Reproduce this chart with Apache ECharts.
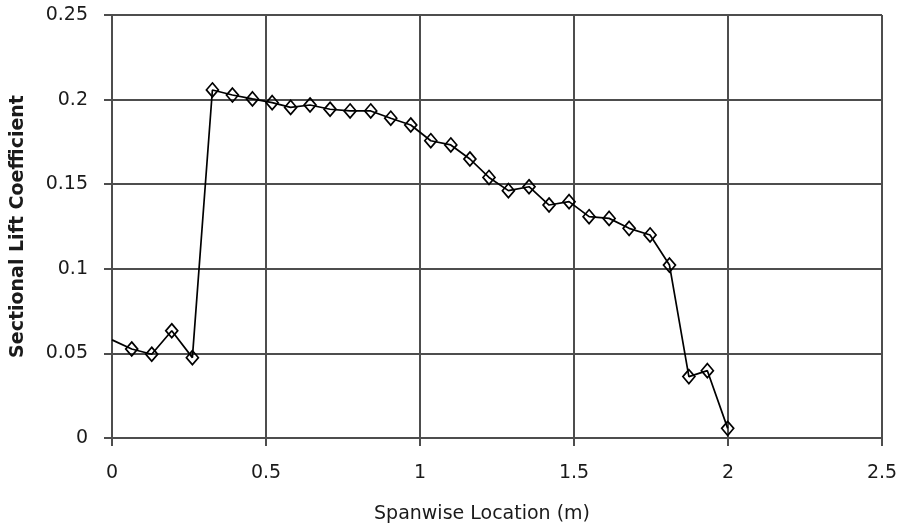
<!DOCTYPE html>
<html>
<head>
<meta charset="utf-8">
<script src="https://cdn.jsdelivr.net/npm/echarts@6/dist/echarts.min.js"></script>
<style>
  html, body { margin: 0; padding: 0; background: #fff; }
  #chart { width: 901px; height: 531px; }
</style>
</head>
<body>
<div id="chart"></div>
<script>
// Spanwise positions (m) of the sections
const spanX = [0, 0.064, 0.129, 0.194, 0.261, 0.326, 0.391, 0.456, 0.520, 0.580,
  0.643, 0.708, 0.773, 0.840, 0.905, 0.970, 1.035, 1.100, 1.162, 1.224,
  1.287, 1.354, 1.419, 1.484, 1.549, 1.614, 1.679, 1.747, 1.810, 1.873,
  1.933, 1.999];
// Sectional lift coefficient at each position
const liftCl = [0.058, 0.0526, 0.0495, 0.0634, 0.0475, 0.2057, 0.2027, 0.2004, 0.1982, 0.1954,
  0.1968, 0.1943, 0.1933, 0.1933, 0.189, 0.185, 0.1757, 0.1732, 0.1649, 0.154,
  0.1462, 0.1485, 0.1377, 0.1397, 0.1308, 0.1298, 0.1239, 0.12, 0.1022, 0.0363,
  0.0398, 0.0057];
// Axis tick values
const xTicks = [0, 0.5, 1, 1.5, 2, 2.5];
const yTicks = [0, 0.05, 0.1, 0.15, 0.2, 0.25];

const FONT = 'DejaVu Sans';
const TEXT_COLOR = '#1a1a1a';
const GRID_COLOR = '#4d4d4d';

// the root section (index 0) is drawn as a line start only, without a marker
const points = spanX.map((x, i) => i === 0
  ? { value: [x, liftCl[i]], symbol: 'none' }
  : [x, liftCl[i]]);

const chart = echarts.init(document.getElementById('chart'), null, { renderer: 'canvas' });
chart.setOption({
  backgroundColor: '#ffffff',
  animation: false,
  grid: { left: 112, right: 19, top: 15, bottom: 93 },
  xAxis: {
    type: 'value',
    min: xTicks[0], max: xTicks[xTicks.length - 1], interval: 0.5,
    name: 'Spanwise Location (m)',
    nameLocation: 'middle',
    nameGap: 67,
    nameTextStyle: { fontFamily: FONT, fontSize: 19, color: TEXT_COLOR, padding: [0, 30, 0, 0] },
    axisLine: { lineStyle: { color: GRID_COLOR, width: 2 } },
    axisTick: { show: true, length: 8, lineStyle: { color: GRID_COLOR, width: 2 } },
    axisLabel: { fontFamily: FONT, fontSize: 19, color: TEXT_COLOR, margin: 26 },
    splitLine: { show: true, lineStyle: { color: GRID_COLOR, width: 2 } }
  },
  yAxis: {
    type: 'value',
    min: yTicks[0], max: yTicks[yTicks.length - 1], interval: 0.05,
    name: 'Sectional Lift Coefficient',
    nameLocation: 'middle',
    nameGap: 84,
    nameTextStyle: { fontFamily: FONT, fontSize: 19, fontWeight: 'bold', color: TEXT_COLOR },
    axisLine: { show: true, lineStyle: { color: GRID_COLOR, width: 2 } },
    axisTick: { show: true, length: 8, lineStyle: { color: GRID_COLOR, width: 2 } },
    axisLabel: { fontFamily: FONT, fontSize: 19, color: TEXT_COLOR, margin: 24 },
    splitLine: { show: true, lineStyle: { color: GRID_COLOR, width: 2 } }
  },
  series: [{
    type: 'line',
    data: points,
    smooth: false,
    symbol: 'diamond',
    symbolSize: [12, 14],
    showSymbol: true,
    clip: false,
    lineStyle: { color: '#000', width: 1.7 },
    itemStyle: { color: 'rgba(255,255,255,0)', borderColor: '#000', borderWidth: 1.7 },
    z: 3
  }]
});
</script>
</body>
</html>
